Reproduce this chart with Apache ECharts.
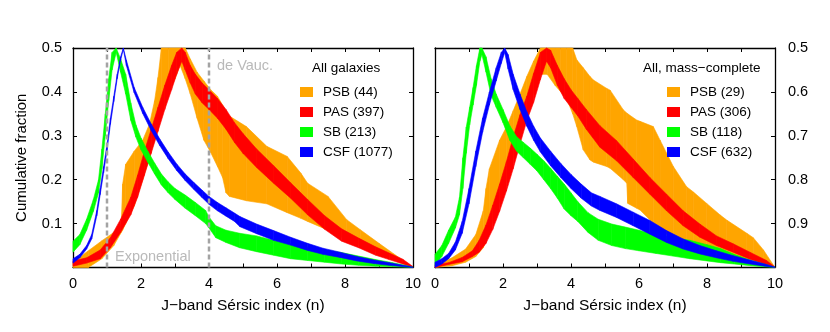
<!DOCTYPE html>
<html>
<head>
<meta charset="utf-8">
<script src="https://cdn.jsdelivr.net/npm/echarts@6/dist/echarts.min.js"></script>
<style>
  html, body { margin: 0; padding: 0; background: #fff; }
  #chart { width: 830px; height: 332px; }
</style>
</head>
<body>
<div id="chart"></div>
<script>
// tick labels
var xTickLabels = ['0', '2', '4', '6', '8', '10'];
var yLeftLabels = ['', '0.1', '0.2', '0.3', '0.4', '0.5'];
var yRightLabels = ['', '0.9', '0.8', '0.7', '0.6', '0.5'];

// reference Sersic indices (dashed lines, left panel)
var refLinesX = [1, 4];

// left panel: all galaxies, bands = lower / upper edge of folded cumulative fraction
var allPsbX  = [0, 0.45, 0.85, 1.2, 1.42, 1.46, 1.55, 1.8, 2.05, 2.25, 2.4, 2.5, 2.6, 2.8, 3.0, 3.15, 3.3, 3.45, 3.65, 3.85, 4.05, 4.25, 4.4, 4.5, 4.6, 5.1, 5.7, 6.3, 6.7, 6.9, 7.5, 8.05, 8.45, 9.0, 9.4, 10];
var allPsbHi = [0.012, 0.038, 0.061, 0.08, 0.099, 0.19, 0.235, 0.265, 0.29, 0.327, 0.38, 0.433, 0.5, 0.5, 0.5, 0.5, 0.5, 0.475, 0.445, 0.425, 0.405, 0.39, 0.37, 0.355, 0.345, 0.321, 0.276, 0.253, 0.215, 0.192, 0.162, 0.109, 0.086, 0.055, 0.033, 0];
var allPsbLo = [0, 0, 0.02, 0.05, 0.08, 0.085, 0.1, 0.14, 0.2, 0.25, 0.29, 0.32, 0.345, 0.395, 0.43, 0.46, 0.43, 0.395, 0.34, 0.29, 0.262, 0.23, 0.205, 0.17, 0.162, 0.152, 0.145, 0.125, 0.112, 0.105, 0.085, 0.063, 0.05, 0.033, 0.02, 0];

var allPasX  = [0, 0.4, 0.8, 1.1, 1.4, 1.7, 1.9, 2.1, 2.3, 2.5, 2.7, 2.9, 3.05, 3.2, 3.3, 3.45, 3.6, 3.8, 4.0, 4.25, 4.5, 4.75, 5.0, 5.4, 5.9, 6.4, 6.9, 7.4, 7.9, 8.4, 8.9, 9.3, 9.7, 10];
var allPasHi = [0.015, 0.022, 0.04, 0.068, 0.11, 0.16, 0.21, 0.265, 0.315, 0.365, 0.415, 0.46, 0.49, 0.5, 0.49, 0.46, 0.44, 0.42, 0.405, 0.385, 0.36, 0.33, 0.305, 0.27, 0.232, 0.193, 0.155, 0.118, 0.088, 0.067, 0.047, 0.033, 0.019, 0.002];
var allPasLo = [0.003, 0.01, 0.02, 0.045, 0.08, 0.12, 0.16, 0.21, 0.26, 0.31, 0.36, 0.405, 0.44, 0.47, 0.45, 0.42, 0.395, 0.375, 0.36, 0.34, 0.315, 0.285, 0.26, 0.228, 0.192, 0.158, 0.12, 0.087, 0.06, 0.045, 0.028, 0.018, 0.008, 0];

var allSbX  = [0, 0.2, 0.4, 0.6, 0.75, 0.85, 0.95, 1.05, 1.15, 1.27, 1.4, 1.55, 1.7, 1.85, 2.0, 2.2, 2.4, 2.6, 2.8, 3.0, 3.3, 3.6, 3.9, 4.0, 4.2, 4.5, 4.9, 5.4, 5.9, 6.4, 6.9, 7.4, 7.9, 8.4, 8.9, 9.4, 10];
var allSbHi = [0.06, 0.075, 0.11, 0.155, 0.2, 0.27, 0.35, 0.43, 0.49, 0.5, 0.475, 0.44, 0.375, 0.325, 0.295, 0.265, 0.238, 0.213, 0.195, 0.18, 0.165, 0.148, 0.13, 0.115, 0.095, 0.085, 0.078, 0.072, 0.062, 0.054, 0.046, 0.04, 0.034, 0.026, 0.018, 0.011, 0.001];
var allSbLo = [0.035, 0.052, 0.085, 0.128, 0.17, 0.225, 0.3, 0.38, 0.45, 0.49, 0.445, 0.395, 0.335, 0.297, 0.268, 0.24, 0.213, 0.188, 0.17, 0.155, 0.135, 0.118, 0.1, 0.09, 0.068, 0.057, 0.045, 0.036, 0.028, 0.02, 0.016, 0.012, 0.008, 0.005, 0.003, 0.002, 0];

var allCsfX  = [0, 0.2, 0.4, 0.55, 0.7, 0.8, 0.9, 1.0, 1.1, 1.2, 1.3, 1.4, 1.48, 1.57, 1.8, 2.05, 2.3, 2.55, 2.8, 3.05, 3.3, 3.55, 3.8, 4.0, 4.25, 4.5, 4.75, 4.91, 5.4, 5.9, 6.4, 6.9, 7.35, 7.85, 8.35, 8.85, 9.3, 10];
var allCsfHi = [0.02, 0.03, 0.05, 0.075, 0.13, 0.18, 0.23, 0.28, 0.34, 0.39, 0.44, 0.48, 0.5, 0.472, 0.41, 0.365, 0.327, 0.293, 0.263, 0.236, 0.213, 0.194, 0.176, 0.162, 0.148, 0.136, 0.124, 0.116, 0.099, 0.084, 0.069, 0.055, 0.044, 0.035, 0.025, 0.017, 0.011, 0.001];
var allCsfLo = [0.01, 0.022, 0.042, 0.065, 0.118, 0.166, 0.216, 0.266, 0.326, 0.378, 0.43, 0.472, 0.497, 0.46, 0.398, 0.351, 0.312, 0.278, 0.248, 0.221, 0.198, 0.178, 0.159, 0.144, 0.129, 0.117, 0.105, 0.093, 0.077, 0.062, 0.051, 0.039, 0.03, 0.023, 0.015, 0.009, 0.005, 0];

// right panel: mass-complete sample
var massPsbX  = [0, 0.5, 0.9, 1.2, 1.42, 1.5, 1.6, 1.9, 2.1, 2.3, 2.5, 2.7, 2.9, 3.1, 3.3, 3.53, 3.7, 3.87, 4.05, 4.17, 4.36, 4.56, 4.66, 5.05, 5.15, 5.54, 5.64, 5.67, 5.93, 6.03, 6.42, 6.62, 7.01, 7.4, 7.6, 7.99, 8.38, 8.58, 9.17, 9.36, 9.66, 10];
var massPsbHi = [0.004, 0.022, 0.042, 0.075, 0.129, 0.18, 0.225, 0.29, 0.32, 0.357, 0.395, 0.435, 0.47, 0.5, 0.5, 0.5, 0.5, 0.5, 0.5, 0.473, 0.455, 0.435, 0.427, 0.408, 0.404, 0.359, 0.352, 0.35, 0.336, 0.333, 0.321, 0.29, 0.23, 0.184, 0.172, 0.146, 0.12, 0.108, 0.078, 0.068, 0.04, 0];
var massPsbLo = [0, 0.004, 0.012, 0.025, 0.045, 0.06, 0.085, 0.15, 0.2, 0.25, 0.3, 0.35, 0.4, 0.44, 0.44, 0.415, 0.4, 0.385, 0.35, 0.321, 0.268, 0.245, 0.24, 0.23, 0.226, 0.2, 0.192, 0.146, 0.135, 0.131, 0.101, 0.09, 0.063, 0.052, 0.047, 0.04, 0.033, 0.03, 0.02, 0.017, 0.01, 0];

var massPasX  = [0, 0.4, 0.8, 1.1, 1.3, 1.5, 1.7, 1.9, 2.1, 2.3, 2.5, 2.7, 2.9, 3.1, 3.28, 3.4, 3.6, 3.8, 4.0, 4.2, 4.45, 4.85, 5.34, 5.83, 6.32, 6.81, 7.3, 7.79, 8.28, 8.77, 9.26, 9.75, 10];
var massPasHi = [0.006, 0.011, 0.023, 0.038, 0.062, 0.097, 0.142, 0.19, 0.241, 0.297, 0.348, 0.39, 0.442, 0.49, 0.5, 0.495, 0.46, 0.43, 0.405, 0.385, 0.36, 0.323, 0.289, 0.247, 0.205, 0.167, 0.129, 0.099, 0.072, 0.054, 0.035, 0.016, 0.001];
var massPasLo = [0, 0.007, 0.013, 0.025, 0.035, 0.055, 0.087, 0.128, 0.174, 0.225, 0.281, 0.334, 0.376, 0.428, 0.47, 0.455, 0.415, 0.385, 0.365, 0.345, 0.315, 0.274, 0.243, 0.205, 0.167, 0.129, 0.095, 0.069, 0.05, 0.035, 0.019, 0.006, 0];

var massSbX  = [0, 0.2, 0.4, 0.6, 0.72, 0.82, 0.92, 1.02, 1.12, 1.22, 1.32, 1.38, 1.5, 1.65, 1.8, 2.0, 2.2, 2.4, 2.6, 2.8, 3.0, 3.2, 3.4, 3.6, 3.8, 4.0, 4.2, 4.5, 4.8, 5.2, 5.6, 6.0, 6.5, 7.0, 7.5, 8.0, 8.4, 8.8, 9.3, 10];
var massSbHi = [0.03, 0.05, 0.085, 0.115, 0.16, 0.25, 0.32, 0.365, 0.41, 0.46, 0.5, 0.5, 0.48, 0.43, 0.395, 0.36, 0.323, 0.298, 0.285, 0.272, 0.258, 0.243, 0.226, 0.208, 0.19, 0.17, 0.15, 0.125, 0.11, 0.099, 0.092, 0.085, 0.075, 0.068, 0.062, 0.052, 0.043, 0.03, 0.016, 0.001];
var massSbLo = [0.005, 0.025, 0.055, 0.09, 0.12, 0.18, 0.26, 0.325, 0.37, 0.415, 0.47, 0.485, 0.445, 0.392, 0.365, 0.33, 0.29, 0.265, 0.25, 0.235, 0.22, 0.2, 0.18, 0.158, 0.133, 0.118, 0.105, 0.08, 0.062, 0.05, 0.043, 0.038, 0.032, 0.026, 0.02, 0.015, 0.011, 0.008, 0.004, 0];

var massCsfX  = [0, 0.2, 0.4, 0.6, 0.8, 1.0, 1.2, 1.4, 1.6, 1.8, 1.95, 2.05, 2.15, 2.3, 2.5, 2.7, 2.9, 3.1, 3.4, 3.7, 4.0, 4.3, 4.6, 4.85, 5.34, 5.83, 6.32, 6.81, 7.3, 7.79, 8.28, 8.77, 9.26, 9.7, 10];
var massCsfHi = [0.012, 0.02, 0.032, 0.058, 0.105, 0.18, 0.265, 0.34, 0.4, 0.455, 0.49, 0.5, 0.485, 0.44, 0.395, 0.355, 0.322, 0.295, 0.265, 0.237, 0.212, 0.19, 0.17, 0.162, 0.145, 0.126, 0.107, 0.084, 0.065, 0.05, 0.038, 0.027, 0.017, 0.008, 0.001];
var massCsfLo = [0, 0.008, 0.02, 0.04, 0.078, 0.145, 0.23, 0.308, 0.37, 0.425, 0.465, 0.49, 0.452, 0.405, 0.36, 0.322, 0.29, 0.263, 0.232, 0.205, 0.18, 0.158, 0.14, 0.13, 0.114, 0.095, 0.076, 0.057, 0.042, 0.031, 0.022, 0.014, 0.008, 0.003, 0];

var leftNames  = ['PSB (44)', 'PAS (397)', 'SB (213)', 'CSF (1077)'];
var rightNames = ['PSB (29)', 'PAS (306)', 'SB (118)', 'CSF (632)'];
var colors = ['#ffa500', '#ff0000', '#00ff00', '#0000ff'];

var FONT = 'Liberation Sans, Arial, Helvetica, sans-serif';
var chart = echarts.init(document.getElementById('chart'));

// a band is drawn as a strip of quads, one per pair of neighbouring x values
function band(name, xs, lo, hi, color, g) {
    var data = [];
    for (var i = 0; i < xs.length - 1; i++) {
        data.push([xs[i], lo[i], hi[i], xs[i + 1], lo[i + 1], hi[i + 1]]);
    }
    return {
        type: 'custom', name: name,
        xAxisIndex: g * 2, yAxisIndex: g * 2,
        itemStyle: { color: color },
        encode: { x: [0, 3], y: [1, 2, 4, 5] },
        silent: true,
        data: data,
        renderItem: function (params, api) {
            var pts = [
                api.coord([api.value(0), api.value(1)]),
                api.coord([api.value(0), api.value(2)]),
                api.coord([api.value(3), api.value(5)]),
                api.coord([api.value(3), api.value(4)])
            ];
            return { type: 'polygon', shape: { points: pts },
                     style: { fill: color, stroke: color, lineWidth: 0.6 } };
        }
    };
}

function xAxes(g) {
    var line = { onZero: false, lineStyle: { color: '#000', width: 1.3 } };
    var tick = { inside: true, length: 4, lineStyle: { color: '#000' } };
    return [{
        gridIndex: g, type: 'value', min: 0, max: 10, interval: 1, position: 'bottom',
        axisLine: line, axisTick: tick, splitLine: { show: false },
        axisLabel: { color: '#000', fontSize: 14.5, fontFamily: FONT, margin: 9,
            formatter: function (v) { return xTickLabels.indexOf(String(v)) >= 0 ? String(v) : ''; } },
        name: 'J\u2212band S\u00e9rsic index (n)', nameLocation: 'middle', nameGap: 30,
        nameTextStyle: { color: '#000', fontSize: 15.5, fontFamily: FONT }
    }, {
        gridIndex: g, type: 'value', min: 0, max: 10, interval: 1, position: 'top',
        axisLine: line, axisTick: tick, splitLine: { show: false }, axisLabel: { show: false }
    }];
}

function yAxes(g) {
    var line = { onZero: false, lineStyle: { color: '#000', width: 1.3 } };
    var tick = { inside: true, length: 4, lineStyle: { color: '#000' } };
    var left = {
        gridIndex: g, type: 'value', min: 0, max: 0.5, interval: 0.1, position: 'left',
        axisLine: line, axisTick: tick, splitLine: { show: false },
        axisLabel: { show: g === 0, color: '#000', fontSize: 14.5, fontFamily: FONT, margin: 11,
            formatter: function (v) { return yLeftLabels[Math.round(v * 10)]; } }
    };
    if (g === 0) {
        left.name = 'Cumulative fraction';
        left.nameLocation = 'middle';
        left.nameGap = 44;
        left.nameTextStyle = { color: '#000', fontSize: 15, fontFamily: FONT };
    }
    var right = {
        gridIndex: g, type: 'value', min: 0, max: 0.5, interval: 0.1, position: 'right',
        axisLine: line, axisTick: tick, splitLine: { show: false },
        axisLabel: { show: g === 1, color: '#000', fontSize: 14.5, fontFamily: FONT, margin: 13,
            formatter: function (v) { return yRightLabels[Math.round(v * 10)]; } }
    };
    return [left, right];
}

var series = [
    band(leftNames[0], allPsbX, allPsbLo, allPsbHi, colors[0], 0),
    band(leftNames[1], allPasX, allPasLo, allPasHi, colors[1], 0),
    band(leftNames[2], allSbX, allSbLo, allSbHi, colors[2], 0),
    band(leftNames[3], allCsfX, allCsfLo, allCsfHi, colors[3], 0),
    band(rightNames[0], massPsbX, massPsbLo, massPsbHi, colors[0], 1),
    band(rightNames[1], massPasX, massPasLo, massPasHi, colors[1], 1),
    band(rightNames[2], massSbX, massSbLo, massSbHi, colors[2], 1),
    band(rightNames[3], massCsfX, massCsfLo, massCsfHi, colors[3], 1)
];

// dashed reference lines at n=1 and n=4
refLinesX.forEach(function (n) {
    series.push({
        type: 'line', xAxisIndex: 0, yAxisIndex: 0, silent: true, symbol: 'none',
        data: [[n, 0], [n, 0.5]],
        lineStyle: { color: '#a3a3a3', width: 2.5, type: [5, 3] }
    });
});

// grey annotations
function note(text, x, y) {
    return {
        type: 'scatter', xAxisIndex: 0, yAxisIndex: 0, silent: true,
        symbolSize: 1, itemStyle: { color: 'rgba(0,0,0,0)' },
        data: [[x, y]],
        label: { show: true, position: 'right', distance: 0, formatter: text,
                 color: '#a8a8a8', fontSize: 14.5, fontFamily: FONT }
    };
}
series.push(note('Exponential', 1.22, 0.025));
series.push(note('de Vauc.', 4.22, 0.458));

function legendFor(names, left) {
    return {
        data: names, left: left, top: 85, orient: 'vertical', padding: 0,
        icon: 'rect', itemWidth: 13, itemHeight: 10, itemGap: 6, selectedMode: false,
        textStyle: { color: '#000', fontSize: 13.5, lineHeight: 14, fontFamily: FONT, padding: [0, 0, 0, 5] }
    };
}

var titleStyle = { color: '#000', fontSize: 13.5, fontWeight: 'normal', fontFamily: FONT };

chart.setOption({
    animation: false,
    backgroundColor: '#fff',
    title: [
        { text: 'All galaxies', left: 312, top: 61, padding: 0, textStyle: titleStyle },
        { text: 'All, mass\u2212complete', left: 643, top: 61, padding: 0, textStyle: titleStyle }
    ],
    legend: [legendFor(leftNames, 300), legendFor(rightNames, 667)],
    grid: [
        { left: 73, top: 48, width: 340, height: 219.5 },
        { left: 435, top: 48, width: 340, height: 219.5 }
    ],
    xAxis: xAxes(0).concat(xAxes(1)),
    yAxis: yAxes(0).concat(yAxes(1)),
    series: series
});
</script>
</body>
</html>
